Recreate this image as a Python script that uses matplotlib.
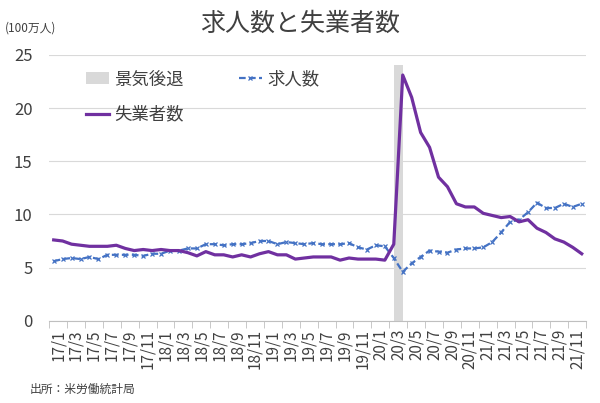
import numpy as np
import matplotlib.pyplot as plt

plt.rcParams['font.family'] = ['Noto Sans CJK JP', 'DejaVu Sans']

# Monthly data 2017/1 - 2021/12 (million persons)
months = [f'{y}/{m}' for y in range(17, 22) for m in range(1, 13)]

job_openings = [5.6, 5.8, 5.9, 5.8, 6.0, 5.8, 6.2, 6.2, 6.2, 6.2, 6.1, 6.3,
                6.3, 6.6, 6.6, 6.8, 6.8, 7.2, 7.2, 7.1, 7.2, 7.2, 7.3, 7.5,
                7.5, 7.2, 7.4, 7.3, 7.2, 7.3, 7.2, 7.2, 7.2, 7.3, 6.9, 6.7,
                7.1, 7.0, 5.9, 4.6, 5.4, 6.0, 6.6, 6.5, 6.4, 6.7, 6.8, 6.8,
                6.9, 7.4, 8.3, 9.3, 9.5, 10.2, 11.1, 10.6, 10.6, 11.0, 10.7, 11.0]

unemployed = [7.6, 7.5, 7.2, 7.1, 7.0, 7.0, 7.0, 7.1, 6.8, 6.6, 6.7, 6.6,
              6.7, 6.6, 6.6, 6.4, 6.1, 6.5, 6.2, 6.2, 6.0, 6.2, 6.0, 6.3,
              6.5, 6.2, 6.2, 5.8, 5.9, 6.0, 6.0, 6.0, 5.7, 5.9, 5.8, 5.8,
              5.8, 5.7, 7.2, 23.1, 21.0, 17.7, 16.3, 13.5, 12.6, 11.0, 10.7, 10.7,
              10.1, 9.9, 9.7, 9.8, 9.3, 9.5, 8.7, 8.3, 7.7, 7.4, 6.9, 6.3]

recession_start = '20/3'
recession_end = '20/4'
recession_height = 24

x = np.arange(len(months))

fig = plt.figure(figsize=(6, 4.03), dpi=100)
ax = fig.add_axes([0.082, 0.204, 0.895, 0.66])

# recession shading
rs = months.index(recession_start)
re_ = months.index(recession_end)
ax.bar((rs + re_) / 2, recession_height, width=re_ - rs, color='#D9D9D9',
       label='景気後退', zorder=1)

ax.plot(x, job_openings, color='#4472C4', lw=1.6, ls=(0, (3, 1.5)),
        marker='x', ms=3.5, mew=0.9, label='求人数', zorder=3)
ax.plot(x, unemployed, color='#7030A0', lw=2.3, label='失業者数', zorder=4)

ax.set_xlim(-0.5, len(months) - 0.5)
ax.set_ylim(0, 25)
ax.set_yticks([0, 5, 10, 15, 20, 25])
ax.grid(axis='y', color='#D9D9D9', lw=0.8)
ax.set_axisbelow(True)

ax.set_xticks(x[::2] + 0.5)
ax.set_xticklabels(months[::2], rotation=90, fontsize=11, color='#404040')
ax.set_xticks(np.arange(-0.5, len(months), 2), minor=True)
ax.tick_params(axis='x', which='major', length=0, pad=6)
ax.tick_params(axis='x', which='minor', length=5, color='#BFBFBF')
ax.tick_params(axis='y', length=0, labelsize=12, labelcolor='#404040', pad=12)

for s in ['top', 'right', 'left']:
    ax.spines[s].set_visible(False)
ax.spines['bottom'].set_color('#BFBFBF')

h, l = ax.get_legend_handles_labels()
order = [l.index('景気後退'), l.index('失業者数'), l.index('求人数')]
ax.legend([h[i] for i in order], [l[i] for i in order], ncol=2, loc='upper left',
          bbox_to_anchor=(0.04, 1.0), frameon=False, fontsize=12.5,
          handlelength=1.3, handletextpad=0.3, columnspacing=3.2,
          labelcolor='#404040', labelspacing=1.0)

fig.text(0.5, 0.94, '求人数と失業者数', ha='center', va='center', fontsize=18,
         color='#404040')
fig.text(0.008, 0.93, '(100万人)', ha='left', va='center', fontsize=8.5,
         color='#404040')
fig.text(0.05, 0.035, '出所：米労働統計局', ha='left', va='center', fontsize=8.5,
         color='#404040')

fig.savefig('out.png', dpi=100)
